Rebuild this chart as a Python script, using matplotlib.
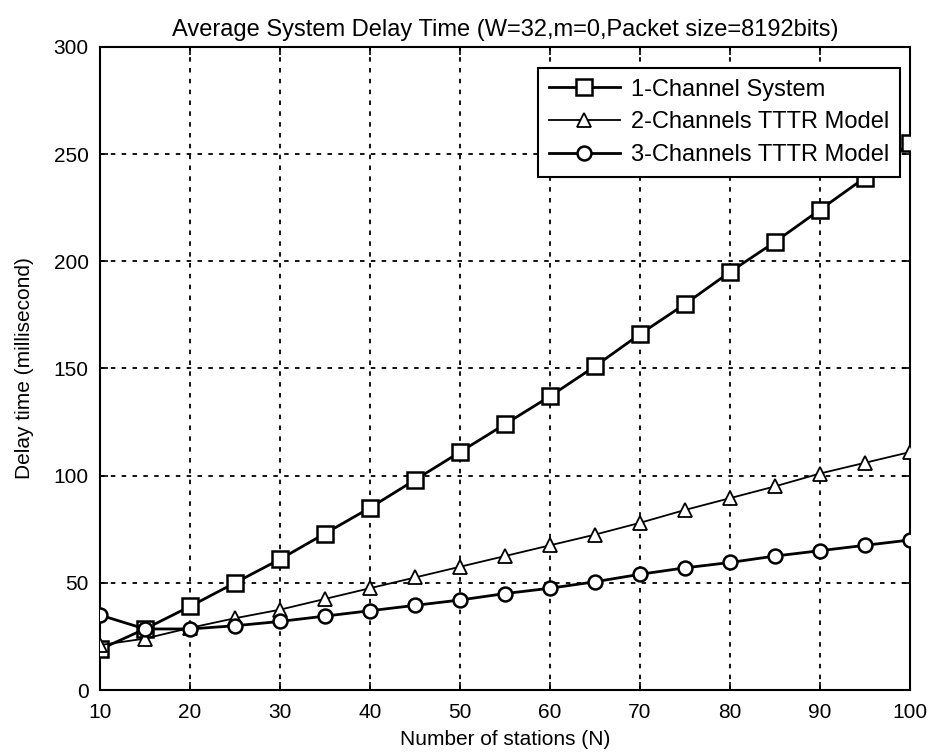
import numpy as np
import matplotlib.pyplot as plt

# ---------------------------------------------------
# Data
# ---------------------------------------------------

stations = [10, 15, 20, 25, 30, 35, 40, 45, 50, 55,
            60, 65, 70, 75, 80, 85, 90, 95, 100]

one_channel = [19, 28.5, 39, 50, 61, 73, 85, 98, 111, 124,
               137, 151, 166, 180, 195, 209, 224, 239, 255]

two_channels = [21, 24, 29, 33.5, 37.5, 42.5, 47.5, 52.5, 57.5, 62.5,
                67.5, 72.5, 78, 84, 89.5, 95, 101, 106, 111]

three_channels = [35, 28.5, 28.5, 30, 32, 34.5, 37, 39.5, 42, 45,
                  47.5, 50.5, 54, 57, 59.5, 62.5, 65, 67.5, 70]

labels = ["1-Channel System", "2-Channels TTTR Model", "3-Channels TTTR Model"]

# ---------------------------------------------------
# Plot
# ---------------------------------------------------

plt.rcParams["font.family"] = ["Liberation Sans", "DejaVu Sans"]

fig = plt.figure(figsize=(9.3, 7.55), dpi=100)
ax = fig.add_axes([0.1075, 0.086, 0.871, 0.852])

ax.plot(stations, one_channel, color="black", linewidth=2.0,
        marker="s", markersize=11, markerfacecolor="white",
        markeredgewidth=1.8, label=labels[0], zorder=3)
ax.plot(stations, two_channels, color="black", linewidth=1.3,
        marker="^", markersize=10, markerfacecolor="white",
        markeredgewidth=1.3, label=labels[1], zorder=3)
ax.plot(stations, three_channels, color="black", linewidth=2.0,
        marker="o", markersize=10, markerfacecolor="white",
        markeredgewidth=1.8, label=labels[2], zorder=3)

ax.set_xlim(10, 100)
ax.set_ylim(0, 300)
ax.set_xticks(np.arange(10, 101, 10))
ax.set_yticks(np.arange(0, 301, 50))

ax.grid(True, color="black", linestyle=(0, (2.5, 3.5)), linewidth=1.3)
ax.tick_params(direction="in", top=True, right=True, length=6,
               width=1.2, labelsize=15)
ax.tick_params(axis="x", pad=9)
ax.tick_params(axis="y", pad=8)
for s in ax.spines.values():
    s.set_linewidth(1.5)

ax.set_title("Average System Delay Time (W=32,m=0,Packet size=8192bits)",
             fontsize=17, pad=8)
ax.set_xlabel("Number of stations (N)", fontsize=15, labelpad=6)
ax.set_ylabel("Delay time (millisecond)", fontsize=15, labelpad=14)

leg = ax.legend(loc="upper right", bbox_to_anchor=(0.988, 0.967),
                fontsize=17, handlelength=3.0,
                fancybox=False, framealpha=1, edgecolor="black",
                borderaxespad=0, labelspacing=0.45, handletextpad=0.5,
                borderpad=0.45)
leg.get_frame().set_linewidth(1.5)

fig.savefig("out.png", dpi=100)
